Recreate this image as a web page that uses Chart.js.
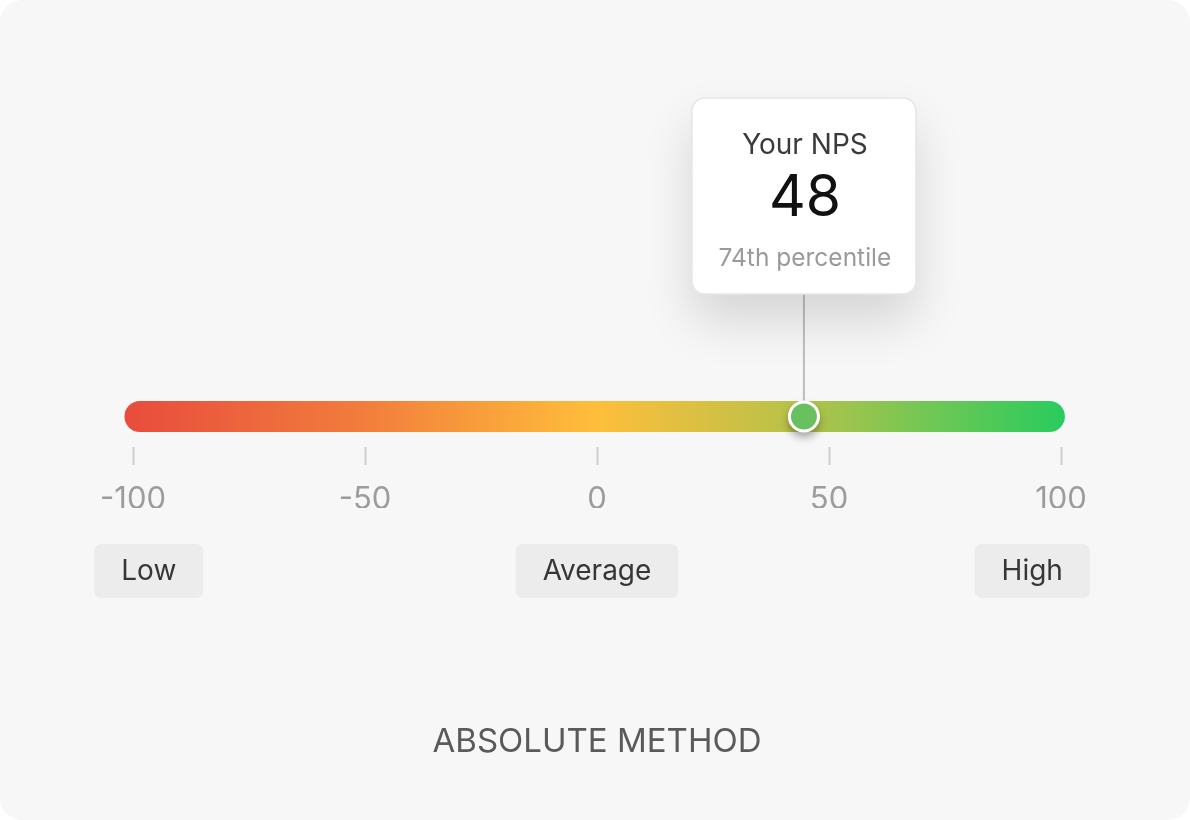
<!DOCTYPE html>
<html>
<head>
<meta charset="utf-8">
<script src="https://cdn.jsdelivr.net/npm/chart.js@4/dist/chart.umd.min.js"></script>
<style>
  html, body { margin: 0; padding: 0; background: #ffffff; }
  #wrap { width: 1190px; height: 820px; background: #f7f7f7; border-radius: 22px; overflow: hidden; position: relative; }
  canvas { display: block; }
</style>
</head>
<body>
<div id="wrap"><canvas id="c" width="1190" height="820"></canvas></div>
<script>
// ---- data ----
const scaleRange = [-100, 100];
const tickValues = [-100, -50, 0, 50, 100];
const barRange = [-98.5, 97.5];          // extent of the coloured track (data units)
const markerValue = 44.6;                // position of the marker on the track
const npsLabel = "Your NPS";
const npsValue = "48";
const percentileLabel = "74th percentile";
const zoneLabels = ["Low", "Average", "High"];
const zoneCenters = [-96.6, 0, 93.8];    // data positions of the zone labels
const gradientStops = [
  [0.00, "#e84c3d"],
  [0.25, "#f17c3c"],
  [0.50, "#ffbe3b"],
  [0.72, "#b5c24a"],
  [1.00, "#28cc5e"]
];
const chartTitle = "ABSOLUTE METHOD";

const FONT = "Inter, 'Noto Sans', sans-serif";

function trackGradient(chart) {
  const xs = chart.scales && chart.scales.x;
  if (!chart.chartArea || !xs) return "#ffbe3b";
  const x0 = xs.getPixelForValue(barRange[0]) - 15.5;
  const x1 = xs.getPixelForValue(barRange[1]) + 15.5;
  if (!isFinite(x0) || !isFinite(x1)) return "#ffbe3b";
  const g = chart.ctx.createLinearGradient(x0, 0, x1, 0);
  gradientStops.forEach(s => g.addColorStop(s[0], s[1]));
  return g;
}

function roundRect(ctx, x, y, w, h, r) {
  ctx.beginPath();
  ctx.moveTo(x + r, y);
  ctx.lineTo(x + w - r, y);
  ctx.arcTo(x + w, y, x + w, y + r, r);
  ctx.lineTo(x + w, y + h - r);
  ctx.arcTo(x + w, y + h, x + w - r, y + h, r);
  ctx.lineTo(x + r, y + h);
  ctx.arcTo(x, y + h, x, y + h - r, r);
  ctx.lineTo(x, y + r);
  ctx.arcTo(x, y, x + r, y, r);
  ctx.closePath();
}

const overlay = {
  id: "overlay",
  beforeDatasetDraw(chart, args) {
    if (args.index === 1) {
      const ctx = chart.ctx;
      const mx = chart.scales.x.getPixelForValue(markerValue);
      const my = chart.scales.y.getPixelForValue(0);
      ctx.save();
      ctx.shadowColor = "rgba(0,0,0,0.35)";
      ctx.shadowBlur = 9;
      ctx.shadowOffsetY = 5;
      ctx.beginPath();
      ctx.arc(mx, my, 15.5, 0, Math.PI * 2);
      ctx.fillStyle = "#ffffff";
      ctx.fill();
      ctx.restore();
    }
  },
  beforeDatasetsDraw(chart) {
    const ctx = chart.ctx;
    const xs = chart.scales.x, ys = chart.scales.y;
    const mx = xs.getPixelForValue(markerValue);
    const my = ys.getPixelForValue(0);
    const bw = 224, bh = 196, by = 98;
    const bx = mx - bw / 2;
    ctx.save();
    ctx.strokeStyle = "#bdbdbd";
    ctx.lineWidth = 2;
    ctx.beginPath();
    ctx.moveTo(mx, by + bh);
    ctx.lineTo(mx, my - 10);
    ctx.stroke();
    ctx.shadowColor = "rgba(0,0,0,0.14)";
    ctx.shadowBlur = 50;
    ctx.shadowOffsetY = 26;
    roundRect(ctx, bx, by, bw, bh, 13);
    ctx.fillStyle = "#ffffff";
    ctx.fill();
    ctx.shadowColor = "transparent";
    ctx.strokeStyle = "#e6e6e6";
    ctx.lineWidth = 1.5;
    ctx.stroke();
    ctx.textAlign = "center";
    ctx.textBaseline = "alphabetic";
    ctx.fillStyle = "#3a3a3a";
    ctx.font = "28px " + FONT;
    ctx.fillText(npsLabel, mx + 1, 154);
    ctx.fillStyle = "#111111";
    ctx.font = "400 57px " + FONT;
    ctx.fillText(npsValue, mx + 1, 216);
    ctx.fillStyle = "#9a9a9a";
    ctx.font = "24.5px " + FONT;
    ctx.fillText(percentileLabel, mx + 1, 266);
    ctx.restore();
  },
  afterDraw(chart) {
    const ctx = chart.ctx;
    const xs = chart.scales.x;
    ctx.save();
    ctx.font = "28px " + FONT;
    ctx.textAlign = "center";
    ctx.textBaseline = "middle";
    zoneLabels.forEach((lab, i) => {
      const cx = xs.getPixelForValue(zoneCenters[i]);
      const w = ctx.measureText(lab).width + 54;
      roundRect(ctx, cx - w / 2, 544, w, 54, 7);
      ctx.fillStyle = "#ececec";
      ctx.fill();
      ctx.fillStyle = "#363636";
      ctx.fillText(lab, cx, 572);
    });
    ctx.font = "33px " + FONT;
    ctx.fillStyle = "#5a5a5a";
    ctx.textBaseline = "alphabetic";
    ctx.fillText(chartTitle, xs.getPixelForValue(0), 752);
    ctx.restore();
  }
};

new Chart(document.getElementById("c"), {
  type: "scatter",
  data: {
    datasets: [
      {
        type: "line",
        data: [{ x: barRange[0], y: 0 }, { x: barRange[1], y: 0 }],
        borderColor: (c) => trackGradient(c.chart),
        borderWidth: 31,
        borderCapStyle: "round",
        pointRadius: 0,
        clip: false,
        order: 2
      },
      {
        type: "scatter",
        data: [{ x: markerValue, y: 0 }],
        pointRadius: 14.5,
        pointHoverRadius: 14.5,
        backgroundColor: "#69c060",
        borderColor: "#ffffff",
        borderWidth: 3,
        clip: false,
        order: 1
      }
    ]
  },
  options: {
    responsive: false,
    animation: false,
    events: [],
    layout: { padding: { left: 133, right: 129, top: 386, bottom: 312 } },
    plugins: { legend: { display: false }, tooltip: { enabled: false } },
    scales: {
      x: {
        type: "linear",
        min: scaleRange[0],
        max: scaleRange[1],
        afterBuildTicks: (s) => { s.ticks = tickValues.map(v => ({ value: v })); },
        ticks: {
          color: "#9c9c9c",
          font: { family: FONT, size: 31 },
          padding: 16,
          maxRotation: 0,
          autoSkip: false
        },
        grid: {
          drawOnChartArea: false,
          drawTicks: true,
          tickLength: 18,
          tickWidth: 2,
          tickColor: "#cfcfcf",
          color: "#cfcfcf"
        },
        border: { display: false }
      },
      y: {
        type: "linear",
        min: -1,
        max: 1,
        display: false
      }
    }
  },
  plugins: [overlay]
});
</script>
</body>
</html>
